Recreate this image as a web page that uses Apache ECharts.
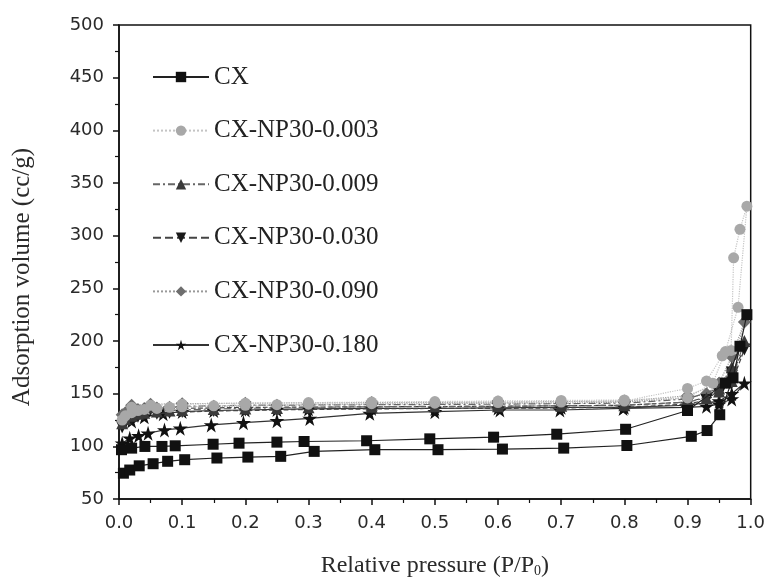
<!DOCTYPE html>
<html>
<head>
<meta charset="utf-8">
<script src="https://cdn.jsdelivr.net/npm/echarts@6/dist/echarts.min.js"></script>
<style>
  html, body { margin: 0; padding: 0; background: #fff; }
  #chart { width: 768px; height: 583px; }
</style>
</head>
<body>
<div id="chart"></div>
<script>
// Nitrogen adsorption / desorption isotherms (adsorption branch then desorption branch)
const seriesNames = ['CX', 'CX-NP30-0.003', 'CX-NP30-0.009', 'CX-NP30-0.030', 'CX-NP30-0.090', 'CX-NP30-0.180'];

const xTicks = [0.0, 0.1, 0.2, 0.3, 0.4, 0.5, 0.6, 0.7, 0.8, 0.9, 1.0];
const yTicks = [50, 100, 150, 200, 250, 300, 350, 400, 450, 500];

// CX
const cxPressure = [0.007, 0.017, 0.032, 0.054, 0.077, 0.104, 0.155, 0.204, 0.256, 0.309, 0.405, 0.505, 0.607, 0.704, 0.804, 0.906, 0.931, 0.951, 0.972, 0.994,
                    0.983, 0.96, 0.9, 0.802, 0.693, 0.593, 0.492, 0.392, 0.293, 0.25, 0.19, 0.149, 0.089, 0.068, 0.041, 0.02, 0.004];
const cxVolume   = [74.5, 77.5, 81.5, 83.5, 85.8, 87.3, 88.9, 89.8, 90.5, 95.2, 96.8, 96.8, 97.4, 98.3, 100.8, 109.5, 115, 130, 165, 225,
                    195, 160, 134, 116.2, 111.5, 108.7, 107.1, 105.3, 104.6, 104, 103, 102, 100.5, 99.9, 99.9, 98.3, 96.8];

// CX-NP30-0.003
const np003Pressure = [0.005, 0.01, 0.02, 0.03, 0.04, 0.06, 0.08, 0.1, 0.15, 0.2, 0.25, 0.3, 0.4, 0.5, 0.6, 0.7, 0.8, 0.9, 0.93, 0.955, 0.969, 0.973, 0.983, 0.994,
                       0.98, 0.96, 0.94, 0.9, 0.8, 0.7, 0.6, 0.5, 0.4, 0.3, 0.2, 0.1, 0.05, 0.02];
const np003Volume   = [125, 129, 132, 134, 135, 136, 137, 137.5, 138.5, 139, 139.5, 140, 140.5, 141, 141.5, 142, 143, 155, 162, 186, 191, 279, 306, 328,
                       232, 190, 160, 146, 144, 143.5, 143, 142.5, 142, 141.5, 141, 140, 139, 137];

// CX-NP30-0.009
const np009Pressure = [0.005, 0.01, 0.02, 0.03, 0.04, 0.06, 0.08, 0.1, 0.15, 0.2, 0.25, 0.3, 0.4, 0.5, 0.6, 0.7, 0.8, 0.9, 0.93, 0.95, 0.97, 0.99,
                       0.97, 0.95, 0.9, 0.8, 0.6, 0.4, 0.2, 0.1, 0.05, 0.02];
const np009Volume   = [122, 126, 129, 131, 132, 133, 134, 134.5, 135.5, 136, 136.5, 137, 137.5, 138, 138, 138.5, 139, 142, 146, 152, 162, 200,
                       175, 155, 145, 141, 140, 139.5, 139, 138, 137, 135];

// CX-NP30-0.030
const np030Pressure = [0.005, 0.01, 0.02, 0.03, 0.04, 0.06, 0.08, 0.1, 0.15, 0.2, 0.25, 0.3, 0.4, 0.5, 0.6, 0.7, 0.8, 0.9, 0.93, 0.95, 0.97, 0.99,
                       0.97, 0.95, 0.9, 0.8, 0.6, 0.4, 0.2, 0.1, 0.05, 0.02];
const np030Volume   = [118, 122, 126, 128, 130, 131, 132, 132.5, 133.5, 134, 134.5, 135, 135.5, 136, 136, 136.5, 137, 140, 144, 150, 160, 192,
                       170, 150, 142, 139, 138, 137.5, 137, 136, 135, 132];

// CX-NP30-0.090
const np090Pressure = [0.005, 0.01, 0.02, 0.03, 0.04, 0.06, 0.08, 0.1, 0.15, 0.2, 0.25, 0.3, 0.4, 0.5, 0.6, 0.7, 0.8, 0.9, 0.93, 0.95, 0.97, 0.99,
                       0.97, 0.95, 0.9, 0.8, 0.6, 0.4, 0.2, 0.1, 0.05, 0.02];
const np090Volume   = [130, 132, 134, 135, 136, 136.5, 137, 137.5, 138, 138.5, 139, 139.5, 140, 140.5, 141, 141, 142, 146, 150, 160, 172, 218,
                       185, 160, 148, 143, 142, 141.5, 141, 140.5, 140, 139];

// CX-NP30-0.180
const np180Pressure = [0.005, 0.017, 0.031, 0.046, 0.072, 0.097, 0.146, 0.197, 0.25, 0.302, 0.397, 0.5, 0.603, 0.698, 0.798, 0.9, 0.93, 0.95, 0.97, 0.99,
                       0.97, 0.95, 0.9, 0.8, 0.7, 0.6, 0.5, 0.4, 0.3, 0.25, 0.2, 0.15, 0.1, 0.07, 0.04, 0.02];
const np180Volume   = [103, 107.7, 110, 112.4, 115.6, 117.1, 120.3, 122.5, 124.4, 126.5, 131.3, 132.9, 134.5, 134.5, 136, 137, 138, 140, 145, 160,
                       150, 143, 139, 137, 137, 136.5, 136, 136, 135.5, 135, 134.5, 134, 133, 131, 128, 124];

const starPath = 'path://M50,0 L61,35 L98,35 L68,57 L79,91 L50,70 L21,91 L32,57 L2,35 L39,35 Z';

function pairs(xs, ys) {
  return xs.map((x, i) => [x, ys[i]]);
}

const styles = [
  { color: '#111', symbol: 'rect', size: 11, rotate: 0, line: 'solid', lineColor: '#222' },
  { color: '#a8a8a8', symbol: 'circle', size: 11, rotate: 0, line: 'dotted', lineColor: '#c4c4c4' },
  { color: '#3a3a3a', symbol: 'triangle', size: 12, rotate: 0, line: [7, 3, 2, 3], lineColor: '#666' },
  { color: '#1a1a1a', symbol: 'triangle', size: 12, rotate: 180, line: 'dashed', lineColor: '#444' },
  { color: '#6e6e6e', symbol: 'diamond', size: 13, rotate: 0, line: 'dotted', lineColor: '#999' },
  { color: '#111', symbol: starPath, size: 15, rotate: 0, line: 'solid', lineColor: '#333' }
];

const seriesData = [
  pairs(cxPressure, cxVolume),
  pairs(np003Pressure, np003Volume),
  pairs(np009Pressure, np009Volume),
  pairs(np030Pressure, np030Volume),
  pairs(np090Pressure, np090Volume),
  pairs(np180Pressure, np180Volume)
];

const chart = echarts.init(document.getElementById('chart'), null, { renderer: 'canvas' });

const serif = '"Liberation Serif", "Times New Roman", serif';
const axisLabelStyle = { fontFamily: '"DejaVu Sans", Arial, sans-serif', fontSize: 18, color: '#2a2a2a' };
const nameStyle = { fontFamily: serif, fontSize: 24, color: '#2a2a2a' };

chart.setOption({
  animation: false,
  backgroundColor: '#fff',
  grid: { left: 119, right: 17, top: 25, bottom: 80, show: true, borderColor: '#111', borderWidth: 1.5, backgroundColor: 'transparent' },
  legend: {
    orient: 'vertical',
    left: 147,
    top: 59,
    itemWidth: 56,
    itemHeight: 13,
    itemGap: 27.6,
    data: seriesNames,
    textStyle: { fontFamily: serif, fontSize: 25, color: '#222', lineHeight: 26 }
  },
  xAxis: {
    type: 'value',
    min: xTicks[0],
    max: xTicks[xTicks.length - 1],
    interval: 0.1,
    name: 'Relative pressure (P/P{sub|0})',
    nameLocation: 'middle',
    nameGap: 55,
    nameTextStyle: Object.assign({}, nameStyle, {
      rich: { sub: { fontFamily: serif, fontSize: 14, color: '#2a2a2a', verticalAlign: 'bottom', padding: [10, 0, 0, 0] } }
    }),
    axisLine: { show: true, onZero: false, lineStyle: { color: '#111', width: 1.5 } },
    axisTick: { show: true, inside: false, length: 6, lineStyle: { color: '#111', width: 1.5 } },
    minorTick: { show: true, splitNumber: 2, length: 4, lineStyle: { color: '#111', width: 1.2 } },
    axisLabel: Object.assign({}, axisLabelStyle, { margin: 15, formatter: v => v.toFixed(1) }),
    splitLine: { show: false }
  },
  yAxis: {
    type: 'value',
    min: yTicks[0],
    max: yTicks[yTicks.length - 1],
    interval: 50,
    name: 'Adsorption volume (cc/g)',
    nameLocation: 'middle',
    nameGap: 84,
    nameTextStyle: Object.assign({}, nameStyle, { fontSize: 25, padding: [0, 30, 0, 0] }),
    axisLine: { show: true, onZero: false, lineStyle: { color: '#111', width: 1.5 } },
    axisTick: { show: true, inside: false, length: 6, lineStyle: { color: '#111', width: 1.5 } },
    minorTick: { show: true, splitNumber: 2, length: 4, lineStyle: { color: '#111', width: 1.2 } },
    axisLabel: Object.assign({}, axisLabelStyle, { margin: 15 }),
    splitLine: { show: false }
  },
  series: seriesNames.map((name, i) => ({
    name: name,
    type: 'line',
    data: seriesData[i],
    symbol: styles[i].symbol,
    symbolSize: styles[i].size,
    symbolRotate: styles[i].rotate,
    showAllSymbol: true,
    itemStyle: { color: styles[i].color },
    lineStyle: { color: styles[i].lineColor, width: 1.2, type: styles[i].line },
    z: 10 - i
  }))
});
</script>
</body>
</html>
